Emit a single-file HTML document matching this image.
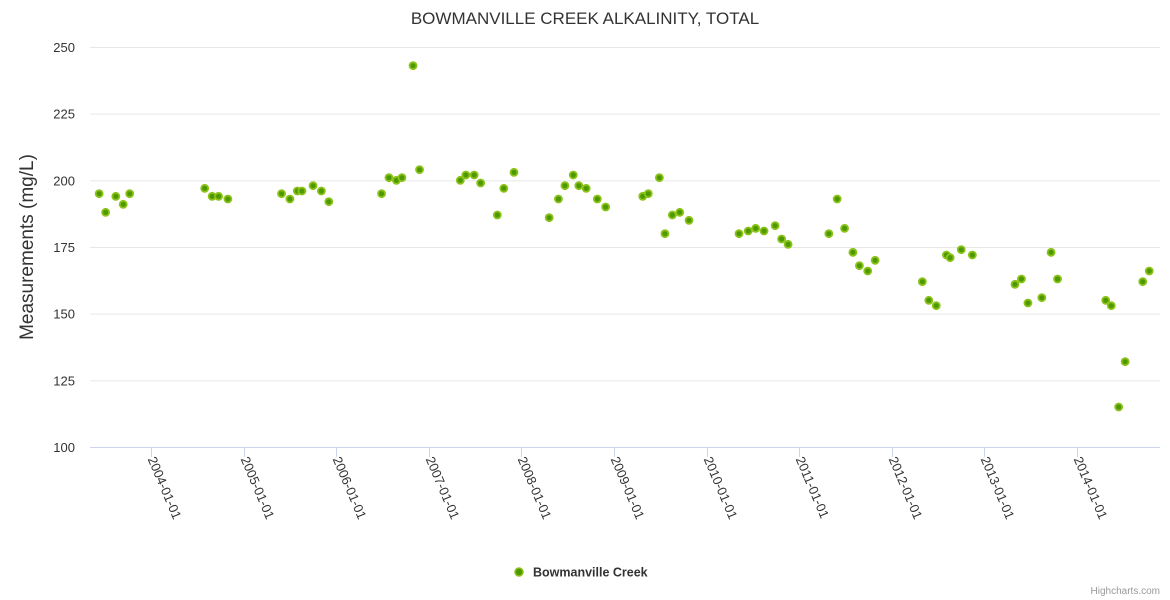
<!DOCTYPE html>
<html><head><meta charset="utf-8"><style>
body{margin:0;background:#fff;font-family:"Liberation Sans",sans-serif}
svg{display:block}
</style></head><body>
<svg id="chart" width="1170" height="600" font-family="Liberation Sans, sans-serif">
<rect width="1170" height="600" fill="#fff"/>
<text x="585" y="24" text-anchor="middle" font-size="17" fill="#333">BOWMANVILLE CREEK ALKALINITY, TOTAL</text>
<text transform="translate(33,247) rotate(-90)" text-anchor="middle" font-size="19" fill="#333">Measurements (mg/L)</text>
<g id="grid"></g><g id="xaxis"></g><g id="points"></g>
<g>
<circle cx="519" cy="572" r="4" fill="#4d9900" stroke="#8cc21a" stroke-width="1.5"/>
<text x="533" y="576.5" font-size="12.5" font-weight="bold" fill="#333">Bowmanville Creek</text>
</g>
<text x="1160" y="594" text-anchor="end" font-size="10" fill="#999">Highcharts.com</text>
</svg>
<script>
const years=[2003.44,2003.51,2003.62,2003.70,2003.77,2004.58,2004.66,2004.73,2004.83,2005.41,2005.50,2005.58,2005.63,2005.75,2005.84,2005.92,2006.49,2006.57,2006.65,2006.71,2006.83,2006.90,2007.34,2007.40,2007.49,2007.56,2007.74,2007.81,2007.92,2008.30,2008.40,2008.47,2008.56,2008.62,2008.70,2008.82,2008.91,2009.31,2009.37,2009.49,2009.55,2009.63,2009.71,2009.81,2010.35,2010.45,2010.53,2010.62,2010.74,2010.81,2010.88,2011.32,2011.41,2011.49,2011.58,2011.65,2011.74,2011.82,2012.33,2012.40,2012.48,2012.59,2012.63,2012.75,2012.87,2013.33,2013.40,2013.47,2013.62,2013.72,2013.79,2014.31,2014.37,2014.45,2014.52,2014.71,2014.78];
const values=[195,188,194,191,195,197,194,194,193,195,193,196,196,198,196,192,195,201,200,201,243,204,200,202,202,199,187,197,203,186,193,198,202,198,197,193,190,194,195,201,180,187,188,185,180,181,182,181,183,178,176,180,193,182,173,168,166,170,162,155,153,172,171,174,172,161,163,154,156,173,163,155,153,115,132,162,166];
const yTicks=[100,125,150,175,200,225,250];
const xTicks=["2004-01-01","2005-01-01","2006-01-01","2007-01-01","2008-01-01","2009-01-01","2010-01-01","2011-01-01","2012-01-01","2013-01-01","2014-01-01"];
const NS="http://www.w3.org/2000/svg";
const L=90,R=1160,T=47,B=447;
const yS=v=>B-(v-100)/150*(B-T);
const xS=y=>151+(y-2004)*92.6;
const grid=document.getElementById('grid');
yTicks.forEach(t=>{
 const l=document.createElementNS(NS,'line');
 l.setAttribute('x1',L);l.setAttribute('x2',R);l.setAttribute('y1',yS(t)+.5);l.setAttribute('y2',yS(t)+.5);
 l.setAttribute('stroke',t===100?'#ccd6eb':'#e6e6e6');
 
 
 grid.appendChild(l);
 const tx=document.createElementNS(NS,'text');
 tx.setAttribute('x',75);tx.setAttribute('y',yS(t)+5);tx.setAttribute('text-anchor','end');
 tx.setAttribute('font-size','13');tx.setAttribute('fill','#333');tx.textContent=t;
 
 
 grid.appendChild(tx);
});
const xa=document.getElementById('xaxis');
xTicks.forEach(s=>{
 const p=s.split('-');const yr=+p[0]+(+p[1]-1)/12;
 const x=Math.round(xS(yr))+.5;
 const l=document.createElementNS(NS,'line');
 l.setAttribute('x1',x);l.setAttribute('x2',x);l.setAttribute('y1',B);l.setAttribute('y2',B+10);
 l.setAttribute('stroke','#ccd6eb');
 
 
 xa.appendChild(l);
 const tx=document.createElementNS(NS,'text');
 tx.setAttribute('transform',`translate(${x-4},459) rotate(67)`);
 tx.setAttribute('font-size','13');tx.setAttribute('fill','#333');tx.textContent=s;
 
 
 xa.appendChild(tx);
});
const pts=document.getElementById('points');
years.forEach((y,i)=>{
 const c=document.createElementNS(NS,'circle');
 c.setAttribute('cx',xS(y));c.setAttribute('cy',yS(values[i]));c.setAttribute('r',3.5);
 c.setAttribute('fill','#4d9900');c.setAttribute('stroke','#8cc21a');c.setAttribute('stroke-width','1.8');
 
 
 pts.appendChild(c);
});
</script>
</body></html>
